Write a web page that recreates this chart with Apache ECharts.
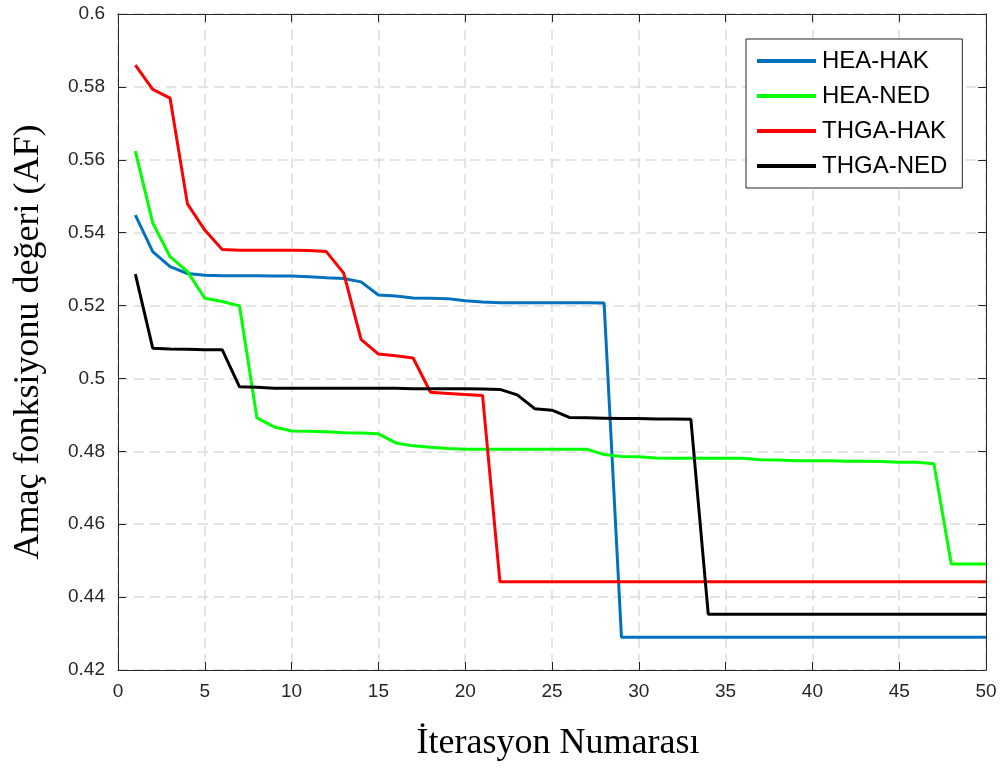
<!DOCTYPE html>
<html>
<head>
<meta charset="utf-8">
<script src="https://cdn.jsdelivr.net/npm/echarts@6/dist/echarts.min.js"></script>
<style>
html, body { margin: 0; padding: 0; background: #fff; }
#chart { width: 1000px; height: 769px; }
</style>
</head>
<body>
<div id="chart"></div>
<script>
var iterations = [1,2,3,4,5,6,7,8,9,10,11,12,13,14,15,16,17,18,19,20,21,22,23,24,25,
	26,27,28,29,30,31,32,33,34,35,36,37,38,39,40,41,42,43,44,45,46,47,48,49,50];

var heaHak = [0.5448,0.5348,0.5307,0.5288,0.5283,0.5282,0.5282,0.5282,0.5281,0.5281,
	0.5279,0.5276,0.5274,0.5265,0.5229,0.5226,0.5221,0.5220,0.5219,0.5213,
	0.5210,0.5208,0.5208,0.5208,0.5208,0.5208,0.5208,0.5207,0.4290,0.4290,
	0.4290,0.4290,0.4290,0.4290,0.4290,0.4290,0.4290,0.4290,0.4290,0.4290,
	0.4290,0.4290,0.4290,0.4290,0.4290,0.4290,0.4290,0.4290,0.4290,0.4290];

var heaNed = [0.5624,0.5427,0.5334,0.5293,0.5220,0.5211,0.5199,0.4892,0.4867,0.4856,
	0.4855,0.4854,0.4851,0.4850,0.4848,0.4823,0.4815,0.4811,0.4808,0.4806,
	0.4806,0.4806,0.4806,0.4806,0.4806,0.4806,0.4806,0.4791,0.4786,0.4785,
	0.4782,0.4781,0.4781,0.4781,0.4781,0.4781,0.4777,0.4776,0.4774,0.4774,
	0.4774,0.4773,0.4773,0.4772,0.4770,0.4770,0.4766,0.4491,0.4491,0.4491];

var thgaHak = [0.5860,0.5793,0.5769,0.5479,0.5407,0.5354,0.5352,0.5352,0.5352,0.5352,
	0.5351,0.5348,0.5289,0.5107,0.5067,0.5062,0.5056,0.4962,0.4959,0.4956,
	0.4953,0.4442,0.4442,0.4442,0.4442,0.4442,0.4442,0.4442,0.4442,0.4442,
	0.4442,0.4442,0.4442,0.4442,0.4442,0.4442,0.4442,0.4442,0.4442,0.4442,
	0.4442,0.4442,0.4442,0.4442,0.4442,0.4442,0.4442,0.4442,0.4442,0.4442];

var thgaNed = [0.5286,0.5083,0.5081,0.5080,0.5079,0.5079,0.4977,0.4976,0.4973,0.4973,
	0.4973,0.4973,0.4973,0.4973,0.4973,0.4973,0.4972,0.4972,0.4972,0.4972,
	0.4971,0.4970,0.4955,0.4917,0.4913,0.4893,0.4892,0.4891,0.4890,0.4890,
	0.4889,0.4889,0.4888,0.4353,0.4353,0.4353,0.4353,0.4353,0.4353,0.4353,
	0.4353,0.4353,0.4353,0.4353,0.4353,0.4353,0.4353,0.4353,0.4353,0.4353];

var seriesNames = ['HEA-HAK', 'HEA-NED', 'THGA-HAK', 'THGA-NED'];
var seriesColors = ['#0072BD', '#00FF00', '#FF0000', '#000000'];
var seriesValues = [heaHak, heaNed, thgaHak, thgaNed];

function pairs(vals) {
	return iterations.map(function (it, i) { return [it, vals[i]]; });
}

var chart = echarts.init(document.getElementById('chart'), null, {renderer: 'canvas'});

var axisLine = {show: true, onZero: false, lineStyle: {color: '#262626', width: 1}};
var axisTick = {show: true, inside: true, length: 8, lineStyle: {color: '#262626', width: 1}};
var gridLine = {show: true, lineStyle: {color: '#dcdcdc', width: 1.5, type: [10, 6]}};
var labelFont = {fontFamily: 'Liberation Sans', fontSize: 19, color: '#262626'};

var option = {
	backgroundColor: '#ffffff',
	animation: false,
	grid: {left: 118, right: 14, top: 14, bottom: 99, containLabel: false},
	legend: {
		orient: 'vertical',
		left: 746,
		top: 39,
		padding: [10, 15, 10, 11],
		itemGap: 11,
		itemWidth: 59,
		itemHeight: 4,
		icon: 'rect',
		backgroundColor: '#ffffff',
		borderColor: '#262626',
		borderWidth: 1,
		borderRadius: 0,
		textStyle: {fontFamily: 'Liberation Sans', fontSize: 24, color: '#000', lineHeight: 24, padding: [0, 0, 0, 1]},
		data: seriesNames
	},
	xAxis: [{
		type: 'value',
		position: 'bottom',
		min: 0, max: 50, interval: 5,
		name: 'İterasyon Numarası',
		nameLocation: 'middle',
		nameGap: 56,
		nameTextStyle: {fontFamily: 'Liberation Serif', fontSize: 36, color: '#000', padding: [0, 0, 0, 12]},
		axisLine: axisLine,
		axisTick: axisTick,
		axisLabel: Object.assign({margin: 12}, labelFont),
		splitLine: gridLine
	}, {
		type: 'value',
		position: 'top',
		min: 0, max: 50, interval: 5,
		axisLine: axisLine,
		axisTick: axisTick,
		axisLabel: {show: false},
		splitLine: {show: false}
	}],
	yAxis: [{
		type: 'value',
		position: 'left',
		min: 0.42, max: 0.6, interval: 0.02,
		name: 'Amaç fonksiyonu değeri (AF)',
		nameLocation: 'middle',
		nameGap: 71,
		nameTextStyle: {fontFamily: 'Liberation Serif', fontSize: 36, color: '#000'},
		axisLine: axisLine,
		axisTick: axisTick,
		axisLabel: Object.assign({margin: 13}, labelFont),
		splitLine: gridLine
	}, {
		type: 'value',
		position: 'right',
		min: 0.42, max: 0.6, interval: 0.02,
		axisLine: axisLine,
		axisTick: axisTick,
		axisLabel: {show: false},
		splitLine: {show: false}
	}],
	series: seriesNames.map(function (name, k) {
		return {
			name: name,
			type: 'line',
			data: pairs(seriesValues[k]),
			showSymbol: false,
			symbol: 'none',
			color: seriesColors[k],
			lineStyle: {color: seriesColors[k], width: 3},
			z: 3 + k
		};
	})
};

chart.setOption(option);
</script>
</body>
</html>
